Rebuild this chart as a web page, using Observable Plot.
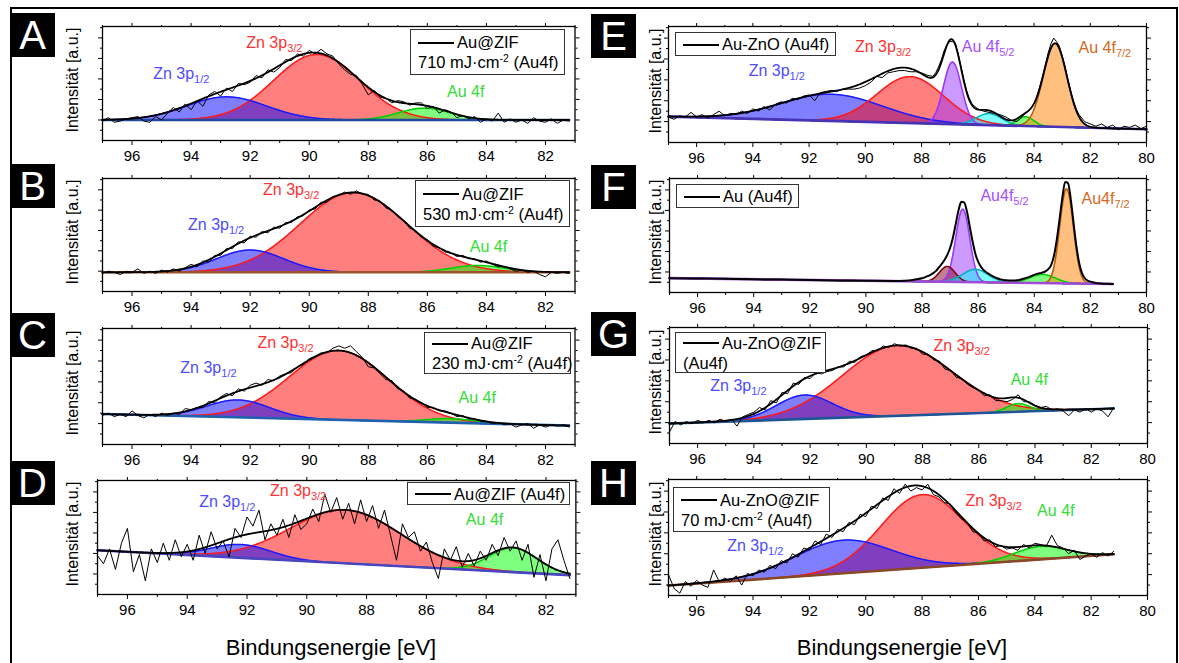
<!DOCTYPE html>
<html><head><meta charset="utf-8">
<script src="https://cdn.jsdelivr.net/npm/d3@7"></script>
<script src="https://cdn.jsdelivr.net/npm/@observablehq/plot@0.6"></script>
<style>
body{margin:0;background:#fff;}
#fig{position:relative;width:1179px;height:663px;overflow:hidden;background:#fff;font-family:"Liberation Sans",Arial,Helvetica,sans-serif;color:#000;}
.border{position:absolute;left:10px;top:7px;width:1168px;height:720px;border:2px solid #000;box-sizing:border-box;}
.letter{position:absolute;background:#000;color:#fff;font-size:40px;line-height:44px;text-align:center;width:45px;height:44px;}
.ylab{position:absolute;font-size:16px;white-space:nowrap;transform:translate(-50%,-50%) rotate(-90deg);}
.xlab{position:absolute;font-size:22px;white-space:nowrap;transform:translate(-50%,-50%);}
.legend{position:absolute;border:1px solid #333;background:#fff;font-size:16.5px;box-sizing:border-box;padding:0 0 0 7px;display:flex;flex-direction:column;justify-content:center;}
.legend .row{display:block;white-space:nowrap;line-height:20px;}
.legend .swatch{display:inline-block;width:36px;height:2px;background:#000;margin-right:3px;vertical-align:middle;position:relative;top:-1px;}
.plabel{position:absolute;font-size:16px;white-space:nowrap;transform:translateY(-50%);}
.plabel sub{font-size:11px;vertical-align:-4px;line-height:0;}
.legend sup{font-size:10.5px;vertical-align:6px;line-height:0;}
</style></head><body><div id="fig"></div>
<script>
// ---------- measured spectra (binding energy in eV, intensity in a.u.) ----------
const energyGrid = [97,96.8,96.6,96.4,96.2,96,95.8,95.6,95.4,95.2,95,94.8,94.6,94.4,94.2,94,93.8,93.6,93.4,93.2,93,92.8,92.6,92.4,92.2,92,91.8,91.6,91.4,91.2,91,90.8,90.6,90.4,90.2,90,89.8,89.6,89.4,89.2,89,88.8,88.6,88.4,88.2,88,87.8,87.6,87.4,87.2,87,86.8,86.6,86.4,86.2,86,85.8,85.6,85.4,85.2,85,84.8,84.6,84.4,84.2,84,83.8,83.6,83.4,83.2,83,82.8,82.6,82.4,82.2,82,81.8,81.6,81.4,81.2];

const countsA = [17,20,16,17,19,20,21,17,16,21, 18,24,29,25,32,27,35,30,40,43, 39,46,43,50,49,51,57,55,62,60, 64,71,70,76,74,79,76,80,76,74, 67,62,58,57,49,40,44,38,37,33, 35,34,31,33,33,28,30,24,27,25, 20,22,19,21,16,19,17,24,16,19, 16,18,15,20,17,16,19,15,18,17];
const countsB = [16,18,17,15,18,17,20,16,18,16, 19,17,20,18,21,24,22,27,26,32, 32,38,38,44,43,49,48,53,52,57, 56,61,61,66,67,72,73,79,79,84, 85,88,86,89,86,86,81,80,74,72, 66,63,56,54,48,46,40,39,35,34, 31,32,29,29,26,27,24,22,22,20, 18,19,17,18,15,13,17,16,17,16];
const countsC = [25,27,24,26,24,29,25,23,26,24, 27,25,27,26,31,30,32,32,37,36, 41,44,42,48,46,51,53,51,56,55, 59,61,62,67,69,74,76,79,79,83, 85,83,85,80,75,67,66,61,56,55, 48,46,40,39,36,32,32,29,29,27, 24,25,22,22,20,20,18,19,17,18, 15,17,18,14,17,15,17,16,17,15];
const countsD = [34,27,40,22,45,58,20,35,12,40, 28,45,30,48,33,44,30,52,36,55, 40,47,33,58,50,68,60,74,48,62, 52,66,50,70,57,62,75,64,88,72, 85,66,80,62,83,64,78,58,74,52, 30,62,50,55,38,46,28,14,40,30, 42,24,36,25,38,30,44,34,50,38, 47,30,44,15,35,12,40,48,30,14];
const countsG = [10,19,16,19,17,20,18,20,18,21, 19,21,15,23,25,27,31,29,37,35, 44,43,52,51,57,56,61,60,62,63, 66,66,71,70,75,76,80,80,84,83, 86,84,85,82,82,77,77,72,71,64, 63,57,56,51,48,46,41,42,37,37, 36,38,42,36,36,33,31,32,29,30, 28,24,29,27,30,27,30,28,23,31];
const countsH = [18,6,2,12,8,13,9,7,22,12, 15,12,17,9,19,17,22,20,26,23, 30,28,36,33,41,39,47,44,53,50, 57,55,63,61,70,68,77,75,84,82, 92,88,96,90,93,91,96,87,85,80, 79,71,66,63,55,54,47,48,42,43, 40,41,39,44,41,45,44,42,52,43, 41,36,39,31,34,36,33,37,34,38];

const energyE = [97,96.8,96.6,96.4,96.2,96,95.8,95.6,95.4,95.2,95,94.8,94.6,94.4,94.2,94,93.8,93.6,93.4,93.2,93,92.8,92.6,92.4,92.2,92,91.8,91.6,91.4,91.2,91,90.8,90.6,90.4,90.2,90,89.8,89.6,89.4,89.2,89,88.8,88.6,88.4,88.2,88,87.8,87.6,87.5,87.4,87.3,87.2,87.1,87,86.9,86.8,86.7,86.6,86.5,86.4,86.3,86.2,86,85.8,85.6,85.4,85.2,85,84.8,84.6,84.4,84.2,84.1,84,83.9,83.8,83.7,83.6,83.5,83.4,83.3,83.2,83.1,83,82.9,82.8,82.7,82.6,82.5,82.4,82.2,82,81.8,81.6,81.4,81.2,81,80.8,80.6,80.4,80.2,80];
const countsE = [22,20,23,22,26,22,24,21,24,27, 23,25,24,27,25,29,27,31,28,33, 35,34,38,37,40,41,36,43,44,45, 44,46,46,46,47,49,52,57,56,60, 61,62,62,61,61,60, 58,57, 60,65,71,79,84,87,87,86,77,66,55,45,38, 33,29,27,26,25,24,22,19,18,23,27, 30,34,40,48,57,67,77,85,90,87,83,75,66,55,45,36,29, 24,18,16,14,16,13,15,11,14,13,15,12,14];

const energyF = [97,96,95,94,93,92,91,90,89,88.6,88.4,88.2,88,87.9,87.8,87.7,87.6,87.5,87.4,87.3,87.2,87.1,87,86.9,86.8,86.7,86.6,86.5,86.4,86.3,86.2,86.1,86,85.9,85.8,85.7,85.6,85.5,85.4,85.3,85.2,85.1,85,84.8,84.6,84.4,84.2,84.1,84,83.9,83.8,83.7,83.6,83.5,83.4,83.3,83.2,83.1,83,82.9,82.8,82.7,82.6,82.5,82.4,82.3,82.2,82.1,82,81.8,81.6,81.4,81.2];
const countsF = [12.6,12.3,12.0,11.6,11.3,11.0,10.6,10.3,10.1,10.4,10.8,11.6, 12.5,13.3,14.3,15.5,17,19,22,25,28.5,33,39,48,60,72,79.5,79,71,58,45,34,27,22.5,19.5,17.5,16,14.5,13.3,12.3,11.5,11,10.7, 10.5,10.8,12,13.5, 14.5,15.5,16.3,17,17.5,18.5,20.5,24,32,46,64,83,97,96,82,61,41,26,17,12.5,10.5,9.5, 8.4,7.9,7.6,7.4];

// ---------- fitted components (centre eV, height a.u., gaussian sigma eV) ----------
const peaksA = [{peak:"Zn 3p3/2",center:89.75,height:57.4,sigma:1.45},{peak:"Zn 3p1/2",center:92.8,height:20.3,sigma:1.35},{peak:"Au 4f",center:86.1,height:10.4,sigma:0.87}];
const peaksB = [{peak:"Zn 3p3/2",center:88.5,height:70.5,sigma:1.81},{peak:"Zn 3p1/2",center:92.0,height:19.7,sigma:1.14},{peak:"Au 4f",center:84.3,height:6,sigma:0.9}];
const peaksC = [{peak:"Zn 3p3/2",center:89.0,height:59.7,sigma:1.67},{peak:"Zn 3p1/2",center:92.4,height:15,sigma:1.06},{peak:"Au 4f",center:85.2,height:3.5,sigma:0.8}];
const peaksD = [{peak:"Zn 3p3/2",center:88.7,height:46.8,sigma:1.84},{peak:"Zn 3p1/2",center:92.2,height:11.7,sigma:1.0},{peak:"Au 4f",center:83.1,height:21.2,sigma:0.8}];
const peaksE = [{peak:"Zn 3p1/2",center:91.2,height:23,sigma:1.81},{peak:"Zn 3p3/2",center:88.4,height:40,sigma:1.18},{peak:"Au 4f5/2",center:86.9,height:53.5,sigma:0.32},{peak:"Au 4f sat",center:85.6,height:10,sigma:0.45},{peak:"Au 4f",center:84.3,height:8,sigma:0.3},{peak:"Au 4f7/2",center:83.25,height:72,sigma:0.42}];
const peaksF = [{peak:"Au 4f5/2",center:86.55,height:64,sigma:0.25},{peak:"Au 4f sh",center:87.1,height:13.5,sigma:0.28},{peak:"Au 4f sat",center:86.1,height:11.3,sigma:0.45},{peak:"Au 4f",center:83.7,height:7.6,sigma:0.45},{peak:"Au 4f7/2",center:82.85,height:83,sigma:0.24}];
const peaksG = [{peak:"Zn 3p3/2",center:88.9,height:60.6,sigma:1.93},{peak:"Zn 3p1/2",center:92.2,height:20.6,sigma:1.0},{peak:"Au 4f",center:84.6,height:7,sigma:0.4}];
const peaksH = [{peak:"Zn 3p3/2",center:88.0,height:63,sigma:1.47},{peak:"Zn 3p1/2",center:90.8,height:28.5,sigma:1.7},{peak:"Au 4f",center:83.8,height:11.2,sigma:0.93}];

// ---------- linear backgrounds ----------
const backgroundA = [{energy:97,value:18},{energy:81.2,value:18}];
const backgroundB = [{energy:97,value:17},{energy:81.2,value:17}];
const backgroundC = [{energy:97,value:26.3},{energy:81.2,value:16.3}];
const backgroundD = [{energy:97,value:38.8},{energy:81.2,value:17}];
const backgroundE = [{energy:97,value:22.3},{energy:80,value:11.4}];
const backgroundF = [{energy:97,value:12.6},{energy:81.2,value:7.4}];
const backgroundG = [{energy:97,value:17.2},{energy:81.2,value:30.2}];
const backgroundH = [{energy:97,value:8.6},{energy:81.2,value:35.5}];

// ---------- peak annotations (left edge energy, centre intensity) ----------
const labelsA = [{peak:"Zn 3p1/2",text:"Zn 3p",sub:"1/2",energy:95.25,value:58},{peak:"Zn 3p3/2",text:"Zn 3p",sub:"3/2",energy:92.1,value:85.5},{peak:"Au 4f",text:"Au 4f",sub:"",energy:85.3,value:42}];
const labelsB = [{peak:"Zn 3p1/2",text:"Zn 3p",sub:"1/2",energy:94.07,value:58},{peak:"Zn 3p3/2",text:"Zn 3p",sub:"3/2",energy:91.53,value:89},{peak:"Au 4f",text:"Au 4f",sub:"",energy:84.53,value:39}];
const labelsC = [{peak:"Zn 3p1/2",text:"Zn 3p",sub:"1/2",energy:94.33,value:65.7},{peak:"Zn 3p3/2",text:"Zn 3p",sub:"3/2",energy:91.72,value:87},{peak:"Au 4f",text:"Au 4f",sub:"",energy:84.91,value:40}];
const labelsD = [{peak:"Zn 3p1/2",text:"Zn 3p",sub:"1/2",energy:93.57,value:81},{peak:"Zn 3p3/2",text:"Zn 3p",sub:"3/2",energy:91.2,value:90},{peak:"Au 4f",text:"Au 4f",sub:"",energy:84.65,value:65}];
const labelsE = [{peak:"Zn 3p1/2",text:"Zn 3p",sub:"1/2",energy:94.13,value:61},{peak:"Zn 3p3/2",text:"Zn 3p",sub:"3/2",energy:90.35,value:82},{peak:"Au 4f5/2",text:"Au 4f",sub:"5/2",energy:86.55,value:82},{peak:"Au 4f7/2",text:"Au 4f",sub:"7/2",energy:82.4,value:81}];
const labelsF = [{peak:"Au 4f5/2",text:"Au4f",sub:"5/2",energy:85.9,value:83.8},{peak:"Au 4f7/2",text:"Au4f",sub:"7/2",energy:82.3,value:82}];
const labelsG = [{peak:"Zn 3p1/2",text:"Zn 3p",sub:"1/2",energy:95.53,value:49.4},{peak:"Zn 3p3/2",text:"Zn 3p",sub:"3/2",energy:87.59,value:83.3},{peak:"Au 4f",text:"Au 4f",sub:"",energy:84.85,value:54.6}];
const labelsH = [{peak:"Zn 3p1/2",text:"Zn 3p",sub:"1/2",energy:94.9,value:42.4},{peak:"Zn 3p3/2",text:"Zn 3p",sub:"3/2",energy:86.44,value:80.7},{peak:"Au 4f",text:"Au 4f",sub:"",energy:83.9,value:72}];

// ---------- legend texts ----------
const legendA = ["Au@ZIF","710 mJ·cm-2 (Au4f)"];
const legendB = ["Au@ZIF","530 mJ·cm-2 (Au4f)"];
const legendC = ["Au@ZIF","230 mJ·cm-2 (Au4f)"];
const legendD = ["Au@ZIF (Au4f)"];
const legendE = ["Au-ZnO (Au4f)"];
const legendF = ["Au (Au4f)"];
const legendG = ["Au-ZnO@ZIF","(Au4f)"];
const legendH = ["Au-ZnO@ZIF","70 mJ·cm-2 (Au4f)"];

// ---------- tick values ----------
const ticksLeft = [96,94,92,90,88,86,84,82];
const minorLeft = [97,95,93,91,89,87,85,83,81];
const ticksRight = [96,94,92,90,88,86,84,82,80];
const minorRight = [97,95,93,91,89,87,85,83,81];
const yTicks = [18,36,54,72,90];
const yMinor = [9,27,45,63,81,99];

const xTitle = "Bindungsenergie [eV]";
const yTitle = "Intensität [a.u.]";

// ---------- styles ----------
const peakStyle = {
  "Zn 3p3/2": {fill:"#ff0000", stroke:"#ff1a1a", text:"#ff3333"},
  "Zn 3p1/2": {fill:"#0000ff", stroke:"#1a1aff", text:"#4d4dff"},
  "Au 4f":    {fill:"#00ff00", stroke:"#00d000", text:"#33dd33"},
  "Au 4f5/2": {fill:"#9933ff", stroke:"#9933ff", text:"#a64dff"},
  "Au 4f7/2": {fill:"#ff8000", stroke:"#b85c00", text:"#d2691e"},
  "Au 4f sat":{fill:"#00ffff", stroke:"#00b0c0", text:"#00b0c0"},
  "Au 4f sh": {fill:"#800020", stroke:"#800000", text:"#800000"}
};

const panels = [
  {id:"A", energy:energyGrid, counts:countsA, peaks:peaksA, background:backgroundA, labels:labelsA, legend:legendA, envelope:true,
   frame:[101.5,26,574,140], domain:[97,81], major:ticksLeft, minor:minorLeft, letter:[10,13], ylab:72.5, leg:[410,29,155,46], base:"#1f4aa0"},
  {id:"B", energy:energyGrid, counts:countsB, peaks:peaksB, background:backgroundB, labels:labelsB, legend:legendB, envelope:true,
   frame:[101.5,178,574,291], domain:[97,81], major:ticksLeft, minor:minorLeft, letter:[10,164], ylab:72.5, leg:[415,180,155,47], base:"#a0522d"},
  {id:"C", energy:energyGrid, counts:countsC, peaks:peaksC, background:backgroundC, labels:labelsC, legend:legendC, envelope:true,
   frame:[101.5,328,574,444], domain:[97,81], major:ticksLeft, minor:minorLeft, letter:[10,313], ylab:72.5, leg:[424,332,147,42], base:"#2060b0"},
  {id:"D", energy:energyGrid, counts:countsD, peaks:peaksD, background:backgroundD, labels:labelsD, legend:legendD, envelope:true,
   frame:[96.6,480,575,594], domain:[97,81], major:ticksLeft, minor:minorLeft, letter:[10,461], ylab:72.5, leg:[407,482,163,23], base:"#4a44c0"},
  {id:"E", energy:energyE, counts:countsE, peaks:peaksE, background:backgroundE, labels:labelsE, legend:legendE, envelope:true,
   frame:[668,26,1146,142], domain:[97,80], major:ticksRight, minor:minorRight, letter:[591,14], ylab:656, leg:[675,32,161,24], base:"#4634b4"},
  {id:"F", energy:energyF, counts:countsF, peaks:peaksF, background:backgroundF, labels:labelsF, legend:legendF, envelope:false,
   frame:[669,178,1146,292], domain:[97,80], major:ticksRight, minor:minorRight, letter:[591,165], ylab:656, leg:[676,184,123,24], base:"#a24ad8"},
  {id:"G", energy:energyGrid, counts:countsG, peaks:peaksG, background:backgroundG, labels:labelsG, legend:legendG, envelope:true,
   frame:[669,327,1147,443], domain:[97,80], major:ticksRight, minor:minorRight, letter:[591,312], ylab:656, leg:[675,332,151,41], base:"#1f5597"},
  {id:"H", energy:energyGrid, counts:countsH, peaks:peaksH, background:backgroundH, labels:labelsH, legend:legendH, envelope:true,
   frame:[668,479,1147,595], domain:[97,80], major:ticksRight, minor:minorRight, letter:[591,461], ylab:656, leg:[673,487,157,45], base:"#8b4726"}
];

const fig = document.getElementById("fig");
function el(tag, cls, html, css) {
  const e = document.createElement(tag);
  if (cls) e.className = cls;
  if (html != null) e.innerHTML = html;
  if (css) Object.assign(e.style, css);
  fig.appendChild(e);
  return e;
}
el("div","border");

function drawPanel(p) {
  const [fl, ft, fr, fb] = p.frame;
  const ml = 8, mr = 8, mt = 8, mb = 30;
  const b0 = p.background[0], b1 = p.background[p.background.length - 1];
  const slope = (b1.value - b0.value) / (b1.energy - b0.energy);
  const base = e => b0.value + slope * (e - b0.energy);
  const gauss = (pk, e) => pk.height * Math.exp(-((e - pk.center) ** 2) / (2 * pk.sigma * pk.sigma));
  const n = Math.round((b0.energy - b1.energy) / 0.02);
  const xs = d3.range(n + 1).map(i => b0.energy - i * (b0.energy - b1.energy) / n);
  const comps = p.peaks.map(pk => xs.map(e => ({energy: e, base: base(e), top: base(e) + gauss(pk, e)})));
  const env = xs.map(e => ({energy: e, value: base(e) + d3.sum(p.peaks, pk => gauss(pk, e))}));
  const spec = p.energy.map((e, i) => ({energy: e, value: p.counts[i]}));
  const blank = () => "";
  const marks = [];
  comps.forEach((c, i) => marks.push(Plot.areaY(c, {x: "energy", y1: "base", y2: "top", fill: peakStyle[p.peaks[i].peak].fill, fillOpacity: 0.5})));
  comps.forEach((c, i) => marks.push(Plot.line(c, {x: "energy", y: "top", stroke: peakStyle[p.peaks[i].peak].stroke, strokeWidth: 1.5})));
  marks.push(Plot.line(p.background, {x: "energy", y: "value", stroke: p.base, strokeWidth: 2.6}));
  marks.push(Plot.line(spec, {x: "energy", y: "value", stroke: "#000", strokeWidth: p.envelope ? 1 : 2, curve: p.envelope ? "linear" : "monotone-x"}));
  if (p.envelope) marks.push(Plot.line(env, {x: "energy", y: "value", stroke: "#000", strokeWidth: 1.8}));
  marks.push(Plot.frame({stroke: "#000", strokeWidth: 1.3}));
  marks.push(Plot.axisX({ticks: p.major, tickSize: 5, tickPadding: 5, tickFormat: d => String(d), label: null}));
  marks.push(Plot.axisX({ticks: p.minor, tickSize: 3, tickFormat: blank, label: null}));
  marks.push(Plot.axisX({anchor: "top", ticks: p.major, tickSize: 4, tickFormat: blank, label: null}));
  marks.push(Plot.axisX({anchor: "top", ticks: p.minor, tickSize: 2, tickFormat: blank, label: null}));
  marks.push(Plot.axisY({anchor: "left", ticks: yTicks, tickSize: 4, tickFormat: blank, label: null}));
  marks.push(Plot.axisY({anchor: "left", ticks: yMinor, tickSize: 2, tickFormat: blank, label: null}));
  marks.push(Plot.axisY({anchor: "right", ticks: yTicks, tickSize: 4, tickFormat: blank, label: null}));
  marks.push(Plot.axisY({anchor: "right", ticks: yMinor, tickSize: 2, tickFormat: blank, label: null}));
  const svg = Plot.plot({
    width: fr - fl + ml + mr, height: fb - ft + mt + mb,
    marginLeft: ml, marginRight: mr, marginTop: mt, marginBottom: mb,
    x: {domain: p.domain}, y: {domain: [0, 100]},
    style: {background: "transparent", fontFamily: '"Liberation Sans", Arial, sans-serif', fontSize: "15px", color: "#000", overflow: "visible"},
    marks
  });
  const ox = fl - ml, oy = ft - mt;
  Object.assign(svg.style, {position: "absolute", left: ox + "px", top: oy + "px"});
  fig.appendChild(svg);
  const sx = svg.scale("x"), sy = svg.scale("y");
  // peak annotations
  p.labels.forEach(l => {
    el("div", "plabel", l.text + (l.sub ? "<sub>" + l.sub + "</sub>" : ""),
      {left: (ox + sx.apply(l.energy)) + "px", top: (oy + sy.apply(l.value)) + "px", color: peakStyle[l.peak].text});
  });
  // legend
  const [lx, ly, lw, lh] = p.leg;
  const rows = p.legend.map((t, i) => {
    const txt = t.replace("cm-2", "cm<sup>-2</sup>");
    return '<div class="row">' + (i === 0 ? '<span class="swatch"></span>' : '') + txt + '</div>';
  }).join("");
  el("div", "legend", rows, {left: lx + "px", top: ly + "px", width: lw + "px", height: lh + "px"});
  // panel letter
  el("div", "letter", p.id, {left: p.letter[0] + "px", top: p.letter[1] + "px"});
  // y title
  el("div", "ylab", yTitle, {left: p.ylab + "px", top: ((ft + fb) / 2 - 3) + "px"});
}
panels.forEach(drawPanel);
el("div", "xlab", xTitle, {left: "331px", top: "648px"});
el("div", "xlab", xTitle, {left: "902px", top: "648px"});
</script></body></html>
